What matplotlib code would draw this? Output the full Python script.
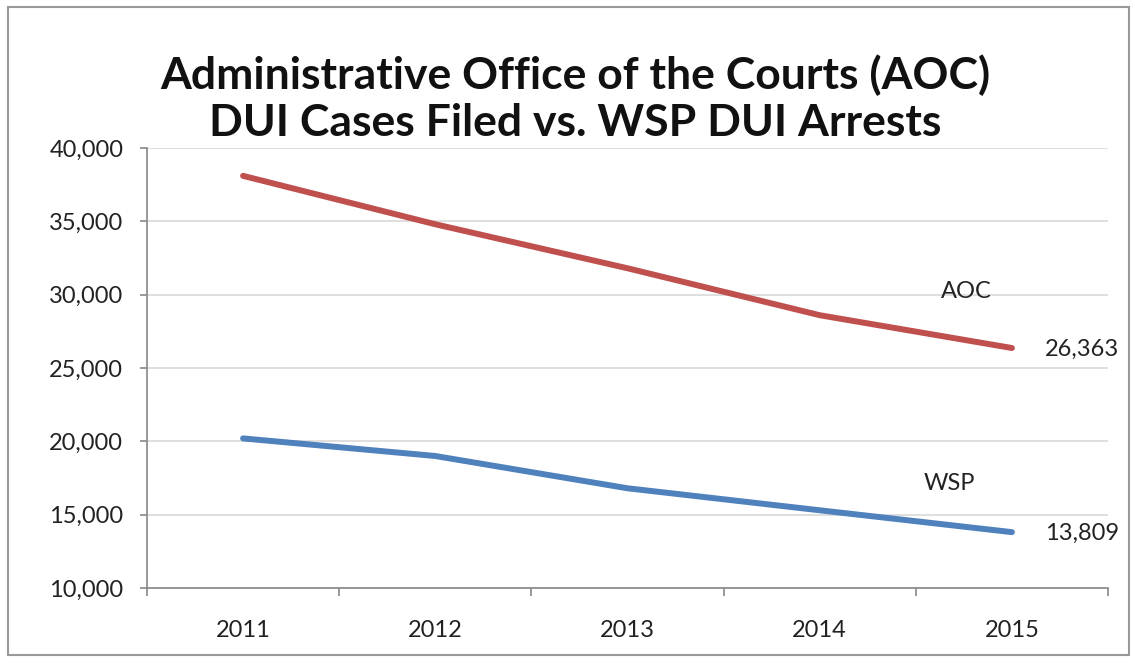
import numpy as np
import matplotlib.pyplot as plt
from matplotlib.patches import Rectangle
from matplotlib.ticker import FuncFormatter, FixedLocator

#region Data
years = ['2011', '2012', '2013', '2014', '2015']
aoc_cases = [38100, 34800, 31800, 28600, 26363]
wsp_arrests = [20200, 19000, 16800, 15300, 13809]
#endregion

plt.rcParams['font.family'] = ['Lato', 'DejaVu Sans']

fig = plt.figure(figsize=[11.35, 6.63], dpi=100)
ax = fig.add_axes([0.1295, 0.1131, 0.8467, 0.6637])

x = np.arange(len(years))
ax.plot(x, aoc_cases, color='#C0504D', lw=4.3, solid_capstyle='round')
ax.plot(x, wsp_arrests, color='#4F81BD', lw=4.3, solid_capstyle='round')

ax.set_xlim(-0.5, len(years) - 0.5)
ax.set_ylim(10000, 40000)
ax.set_yticks(np.arange(10000, 40001, 5000))
ax.yaxis.set_major_formatter(FuncFormatter(lambda v, p: f'{int(v):,}'))
ax.set_xticks(x)
ax.set_xticklabels(years)
ax.xaxis.set_minor_locator(FixedLocator(np.arange(-0.5, len(years), 1.0)))

ax.grid(axis='y', color='#d9d9d9', lw=1.2)
ax.set_axisbelow(True)
for s in ['top', 'right']:
    ax.spines[s].set_visible(False)
for s in ['left', 'bottom']:
    ax.spines[s].set_color('#888888')
    ax.spines[s].set_linewidth(1.2)

ax.tick_params(axis='y', length=5, width=1.2, color='#888888', labelsize=17, labelcolor='#222222', pad=12)
ax.tick_params(axis='x', which='major', length=0, labelsize=17, labelcolor='#222222', pad=23)
ax.tick_params(axis='x', which='minor', length=6, width=1.2, color='#888888')

# series labels and end values
ax.annotate('AOC', (x[-1], aoc_cases[-1]), xytext=(-33, 41), textcoords='offset points',
            fontsize=17, color='#222222', ha='center', va='center')
ax.annotate(f'{aoc_cases[-1]:,}', (x[-1], aoc_cases[-1]), xytext=(24, -1), textcoords='offset points',
            fontsize=17, color='#222222', ha='left', va='center')
ax.annotate('WSP', (x[-1], wsp_arrests[-1]), xytext=(-45, 35), textcoords='offset points',
            fontsize=17, color='#222222', ha='center', va='center')
ax.annotate(f'{wsp_arrests[-1]:,}', (x[-1], wsp_arrests[-1]), xytext=(24, -1), textcoords='offset points',
            fontsize=17, color='#222222', ha='left', va='center')

fig.text(0.507, 0.887, 'Administrative Office of the Courts (AOC)', ha='center', va='center',
         fontsize=32, fontweight='bold', color='#111111')
fig.text(0.507, 0.815, 'DUI Cases Filed vs. WSP DUI Arrests', ha='center', va='center',
         fontsize=32, fontweight='bold', color='#111111')

fig.patches.append(Rectangle((0.007, 0.012), 0.988, 0.978, transform=fig.transFigure,
                             fill=False, edgecolor='#999999', lw=1.5))

fig.savefig('out.png', dpi=100)
